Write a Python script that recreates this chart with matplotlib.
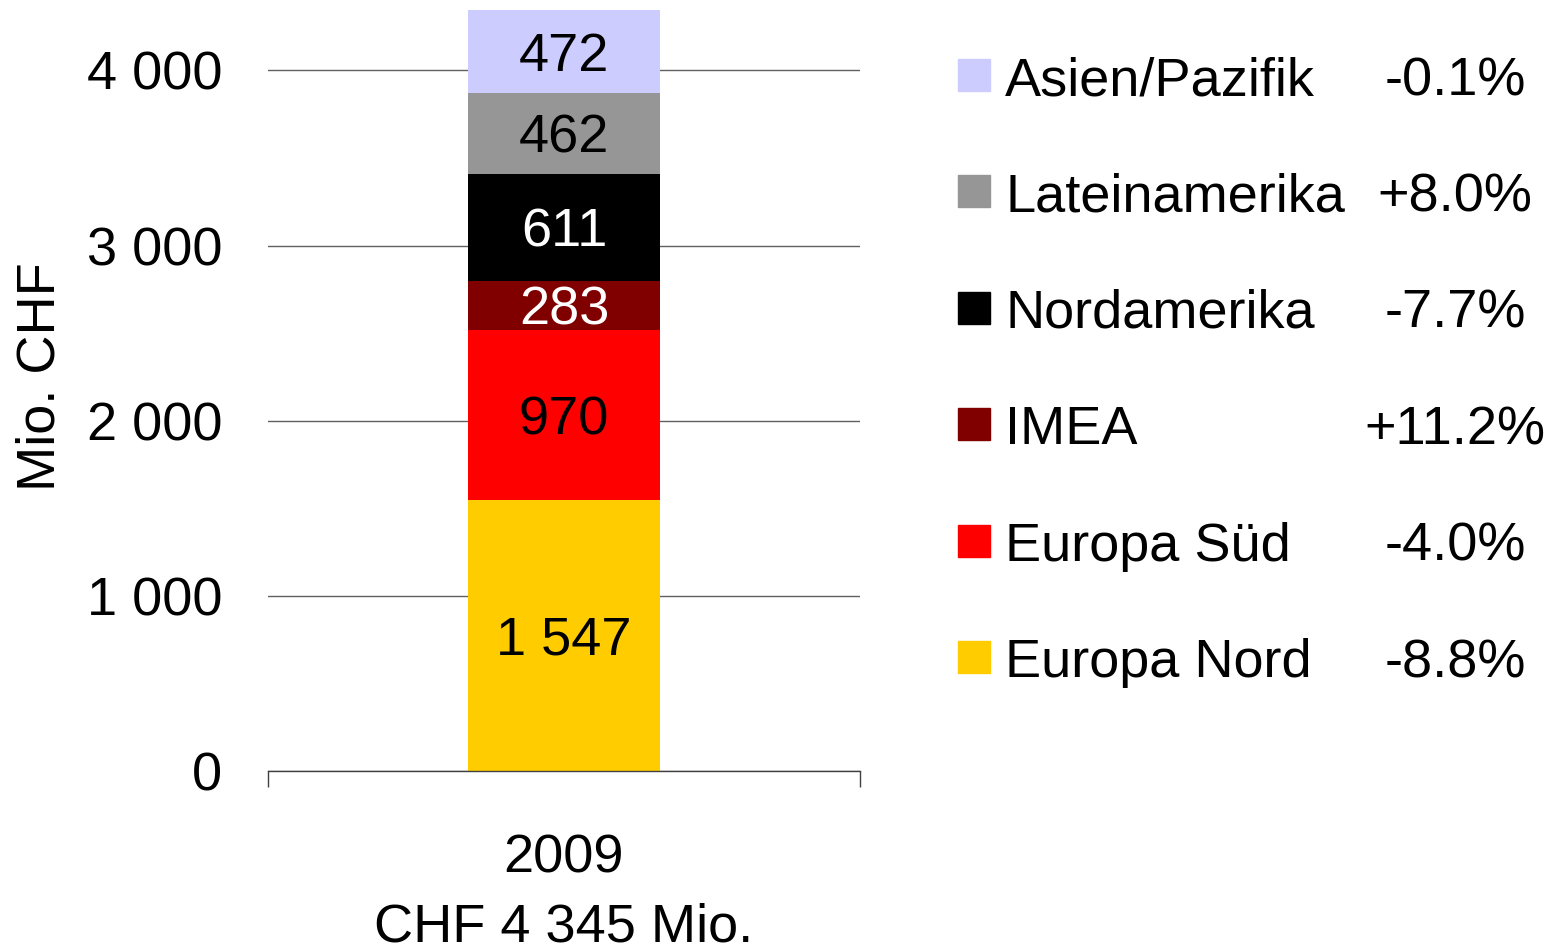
import matplotlib
matplotlib.use("Agg")
import matplotlib.pyplot as plt
from matplotlib.patches import Rectangle

plt.rcParams['font.family'] = ['Liberation Sans', 'DejaVu Sans']

# Data
category = "2009\nCHF 4 345 Mio."
regions = ["Europa Nord", "Europa Süd", "IMEA", "Nordamerika", "Lateinamerika", "Asien/Pazifik"]
values = [1547, 970, 283, 611, 462, 472]
value_labels = ["1 547", "970", "283", "611", "462", "472"]
changes = ["-8.8%", "-4.0%", "+11.2%", "-7.7%", "+8.0%", "-0.1%"]
colors = ["#FFCC00", "#FF0000", "#800000", "#000000", "#969696", "#CCCCFF"]
text_colors = ["black", "black", "white", "white", "black", "black"]
yticks = [0, 1000, 2000, 3000, 4000]
ytick_labels = ["0", "1 000", "2 000", "3 000", "4 000"]

FS = 39
W, H = 1554, 947
fig = plt.figure(figsize=(W / 100, H / 100), dpi=100)
ax = fig.add_axes([268 / W, 1 - 771 / H, (860 - 268) / W, (771 - 10) / H])

bottom = 0
for v, c, lab, tc in zip(values, colors, value_labels, text_colors):
    ax.bar(0, v, bottom=bottom, width=0.324, color=c, zorder=3)
    ax.annotate(lab, (0, bottom + v / 2), xytext=(0, -0.358 * FS), textcoords='offset points',
                ha='center', va='baseline', fontsize=FS, color=tc, zorder=4)
    bottom += v

ax.set_xlim(-0.5, 0.5)
ax.set_ylim(0, 4345)
ax.set_yticks(yticks)
ax.set_yticklabels(ytick_labels, fontsize=FS)
ax.tick_params(axis='y', length=0, pad=33)
ax.set_xticks([0])
ax.set_xticklabels([category], fontsize=FS, linespacing=1.48)
ax.tick_params(axis='x', which='major', length=0, pad=45)
ax.set_xticks([-0.5, 0.5], minor=True)
ax.tick_params(axis='x', which='minor', length=11.5, width=1, color='#404040')
ax.grid(axis='y', color='#606060', linewidth=1, zorder=0)
for s in ['top', 'right', 'left']:
    ax.spines[s].set_visible(False)
ax.spines['bottom'].set_color('#404040')
ax.spines['bottom'].set_linewidth(1)
ax.spines['bottom'].set_zorder(5)

fig.text(41 / W, 1 - 377 / H, "Mio. CHF", rotation=90, ha='center', va='center', fontsize=FS)

# Legend (top to bottom: reversed stacking order)
row0, step = 75, 116.4
for i, idx in enumerate(reversed(range(len(regions)))):
    yc = row0 + i * step
    fig.add_artist(Rectangle((958 / W, 1 - (yc + 16) / H), 32 / W, 32 / H,
                             transform=fig.transFigure, color=colors[idx]))
    fig.text(1005 / W, 1 - (yc + 20) / H, regions[idx], ha='left', va='baseline', fontsize=FS)
    fig.text(1455 / W, 1 - (yc + 20) / H, changes[idx], ha='center', va='baseline', fontsize=FS)

fig.savefig("out.png", dpi=100)
